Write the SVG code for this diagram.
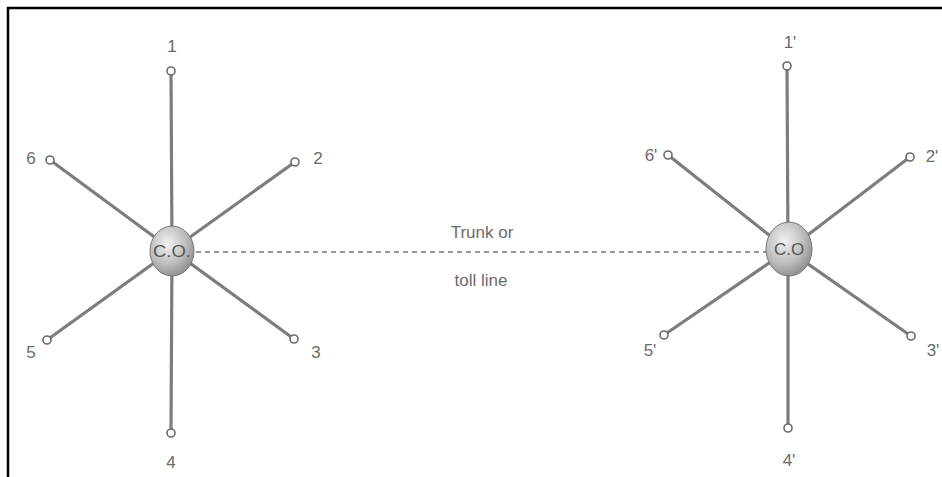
<svg xmlns="http://www.w3.org/2000/svg" width="942" height="477" viewBox="0 0 942 477">
<defs>
<radialGradient id="ball" cx="0.4" cy="0.35" r="0.7">
<stop offset="0" stop-color="#f2f2f2"/>
<stop offset="0.6" stop-color="#bdbdbd"/>
<stop offset="1" stop-color="#8a8a8a"/>
</radialGradient>
</defs>
<style>
.spoke{stroke:#7d7d7d;stroke-width:3.2;fill:none}
.term{fill:#fff;stroke:#6a6a6a;stroke-width:1.6}
.lbl{font-family:"Liberation Sans",Arial,sans-serif;font-size:17px;fill:#6b6b6b;text-anchor:middle}
.co{font-family:"Liberation Sans",Arial,sans-serif;font-size:17px;fill:#555;text-anchor:middle}
.trunk{stroke:#777;stroke-width:1.6;stroke-dasharray:5,4;fill:none}
</style>
<rect width="942" height="477" fill="#fff"/>
<path d="M8,477 V8 H942" fill="none" stroke="#000" stroke-width="2.5"/>
<g id="connectors">
<line class="trunk" x1="196" y1="252" x2="767" y2="252"/>
<g id="left-spokes">
<line class="spoke" x1="172" y1="250" x2="171" y2="71"/>
<line class="spoke" x1="172" y1="250" x2="295" y2="162"/>
<line class="spoke" x1="172" y1="250" x2="294" y2="339"/>
<line class="spoke" x1="172" y1="250" x2="171" y2="433"/>
<line class="spoke" x1="172" y1="250" x2="47" y2="340"/>
<line class="spoke" x1="172" y1="250" x2="50" y2="160"/>
</g>
<g id="right-spokes">
<line class="spoke" x1="788" y1="250" x2="787" y2="66"/>
<line class="spoke" x1="788" y1="250" x2="910" y2="157"/>
<line class="spoke" x1="788" y1="250" x2="911" y2="336"/>
<line class="spoke" x1="788" y1="250" x2="788" y2="428"/>
<line class="spoke" x1="788" y1="250" x2="664" y2="335"/>
<line class="spoke" x1="788" y1="250" x2="668" y2="155"/>
</g>
</g>
<g id="label-trunk">
<text class="lbl" x="482" y="238">Trunk or</text>
<text class="lbl" x="481" y="286">toll line</text>
</g>
<g id="co-left">
<ellipse cx="172" cy="251" rx="22" ry="25" fill="url(#ball)" stroke="#777" stroke-width="1"/>
<text class="co" x="172" y="257" textLength="38" lengthAdjust="spacingAndGlyphs">C.O.</text>
</g>
<g id="co-right">
<ellipse cx="789" cy="249" rx="23" ry="27" fill="url(#ball)" stroke="#777" stroke-width="1"/>
<text class="co" x="789" y="255">C.O</text>
</g>
<g id="n1"><circle class="term" cx="171" cy="71" r="4"/><text class="lbl" x="172" y="52">1</text></g>
<g id="n2"><circle class="term" cx="295" cy="162" r="4"/><text class="lbl" x="318" y="164">2</text></g>
<g id="n3"><circle class="term" cx="294" cy="339" r="4"/><text class="lbl" x="316" y="358">3</text></g>
<g id="n4"><circle class="term" cx="171" cy="433" r="4"/><text class="lbl" x="171" y="468">4</text></g>
<g id="n5"><circle class="term" cx="47" cy="340" r="4"/><text class="lbl" x="31" y="358">5</text></g>
<g id="n6"><circle class="term" cx="50" cy="160" r="4"/><text class="lbl" x="31" y="164">6</text></g>
<g id="n1p"><circle class="term" cx="787" cy="66" r="4"/><text class="lbl" x="790" y="48">1'</text></g>
<g id="n2p"><circle class="term" cx="910" cy="157" r="4"/><text class="lbl" x="932" y="162">2'</text></g>
<g id="n3p"><circle class="term" cx="911" cy="336" r="4"/><text class="lbl" x="933" y="356">3'</text></g>
<g id="n4p"><circle class="term" cx="788" cy="428" r="4"/><text class="lbl" x="789" y="466">4'</text></g>
<g id="n5p"><circle class="term" cx="664" cy="335" r="4"/><text class="lbl" x="650" y="356">5'</text></g>
<g id="n6p"><circle class="term" cx="668" cy="155" r="4"/><text class="lbl" x="651" y="161">6'</text></g>
</svg>
